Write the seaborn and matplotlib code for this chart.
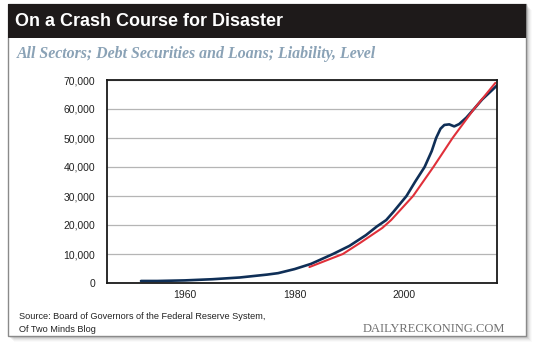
import matplotlib
matplotlib.use("Agg")
import matplotlib.pyplot as plt
import seaborn as sns
import pandas as pd
from matplotlib.patches import Rectangle
from matplotlib.ticker import FuncFormatter

# ---- data (billions of USD) ----
debt_years = [1952, 1955, 1960, 1965, 1970, 1975, 1977, 1980, 1983, 1985, 1987,
              1990, 1993, 1995, 1996.7, 1998, 2000.4, 2002, 2003.7, 2005, 2005.8,
              2006.6, 2007.3, 2008.2, 2009.1, 2010, 2011.3, 2012.7, 2014.2, 2016, 2017]
debt_values = [700, 700, 900, 1300, 1900, 2900, 3400, 4800, 6600, 8300, 10000,
               12800, 16500, 19500, 21700, 24500, 30000, 35000, 40000, 45500, 50000,
               53200, 54500, 54700, 54000, 54800, 57000, 60000, 63300, 66500, 68300]
trend_years = [1982.7, 1985, 1988.8, 1992, 1996, 1997.6, 2001.6, 2005.3, 2008.8,
               2012.7, 2016.6]
trend_values = [5500, 7200, 10000, 13900, 19000, 21700, 30000, 40000, 50000,
                60000, 69000]
x_ticks = [1960, 1980, 2000]
y_ticks = [0, 10000, 20000, 30000, 40000, 50000, 60000, 70000]

title = "On a Crash Course for Disaster"
subtitle = "All Sectors; Debt Securities and Loans; Liability, Level"
source = "Source: Board of Governors of the Federal Reserve System,\nOf Two Minds Blog"
brand = "DailyReckoning.com"

sns.set_theme(style="white")
plt.rcParams["font.family"] = ["Liberation Sans", "DejaVu Sans"]

W, H = 540, 347
fig = plt.figure(figsize=(W / 100, H / 100), dpi=100)
fig.patch.set_facecolor("white")

def px_rect(x0, y0, x1, y1, **kw):
    # pixel coordinates from top-left
    fig.patches.append(Rectangle((x0 / W, 1 - y1 / H), (x1 - x0) / W, (y1 - y0) / H,
                                 transform=fig.transFigure, figure=fig, **kw))

# shadow
for i, a in enumerate([0.10, 0.08, 0.06, 0.045, 0.03, 0.02]):
    d = i + 1
    px_rect(8 + d, 4 + d, 526 + d, 336 + d, facecolor="black", alpha=a,
            edgecolor="none", zorder=0)
# panel
px_rect(8, 4, 526, 336, facecolor="white", edgecolor="#8a8a8a", linewidth=1.0, zorder=1)
# title bar
px_rect(8, 4, 526, 38, facecolor="#1e1a1a", edgecolor="none", zorder=2)

fig.text(15 / W, 1 - 21.5 / H, title, color="white", fontsize=13, fontweight="bold",
         va="center", ha="left", zorder=3)
fig.text(17 / W, 1 - 54 / H, subtitle, color="#8aa2b6", fontsize=11.4,
         fontweight="bold", fontstyle="italic", family=["Liberation Serif", "DejaVu Serif"],
         va="center", ha="left", zorder=3)
fig.text(19 / W, 1 - 323 / H, source, color="#222222", fontsize=6.6,
         va="center", ha="left", linespacing=1.45, zorder=3)
fig.text(505 / W, 1 - 329.5 / H, brand.upper(), color="#707070", fontsize=9,
         family=["Liberation Serif", "DejaVu Serif"], va="center", ha="right", zorder=3)

ax = fig.add_axes([107 / W, 1 - 283 / H, 390 / W, 203 / H], zorder=4)
ax.set_facecolor("white")

df_debt = pd.DataFrame({"year": debt_years, "value": debt_values})
df_trend = pd.DataFrame({"year": trend_years, "value": trend_values})
sns.lineplot(data=df_debt, x="year", y="value", ax=ax, color="#0f2f57", linewidth=1.9)
sns.lineplot(data=df_trend, x="year", y="value", ax=ax, color="#e0303a", linewidth=1.5)

ax.set_xlim(1945.8, 2016.9)
ax.set_ylim(0, 70000)
ax.set_xticks(x_ticks)
ax.set_yticks(y_ticks)
ax.yaxis.set_major_formatter(FuncFormatter(lambda v, p: f"{int(v):,}"))
ax.grid(axis="y", color="#b5b5b5", linewidth=0.9)
ax.grid(axis="x", visible=False)
ax.set_axisbelow(True)
ax.set_xlabel("")
ax.set_ylabel("")
ax.tick_params(axis="both", length=0, labelsize=7.5, colors="#222222")
ax.tick_params(axis="y", pad=8.5)
ax.tick_params(axis="x", pad=5)
for s in ax.spines.values():
    s.set_color("#1a1a1a")
    s.set_linewidth(1.3)

fig.savefig("out.png", dpi=100, facecolor="white")
